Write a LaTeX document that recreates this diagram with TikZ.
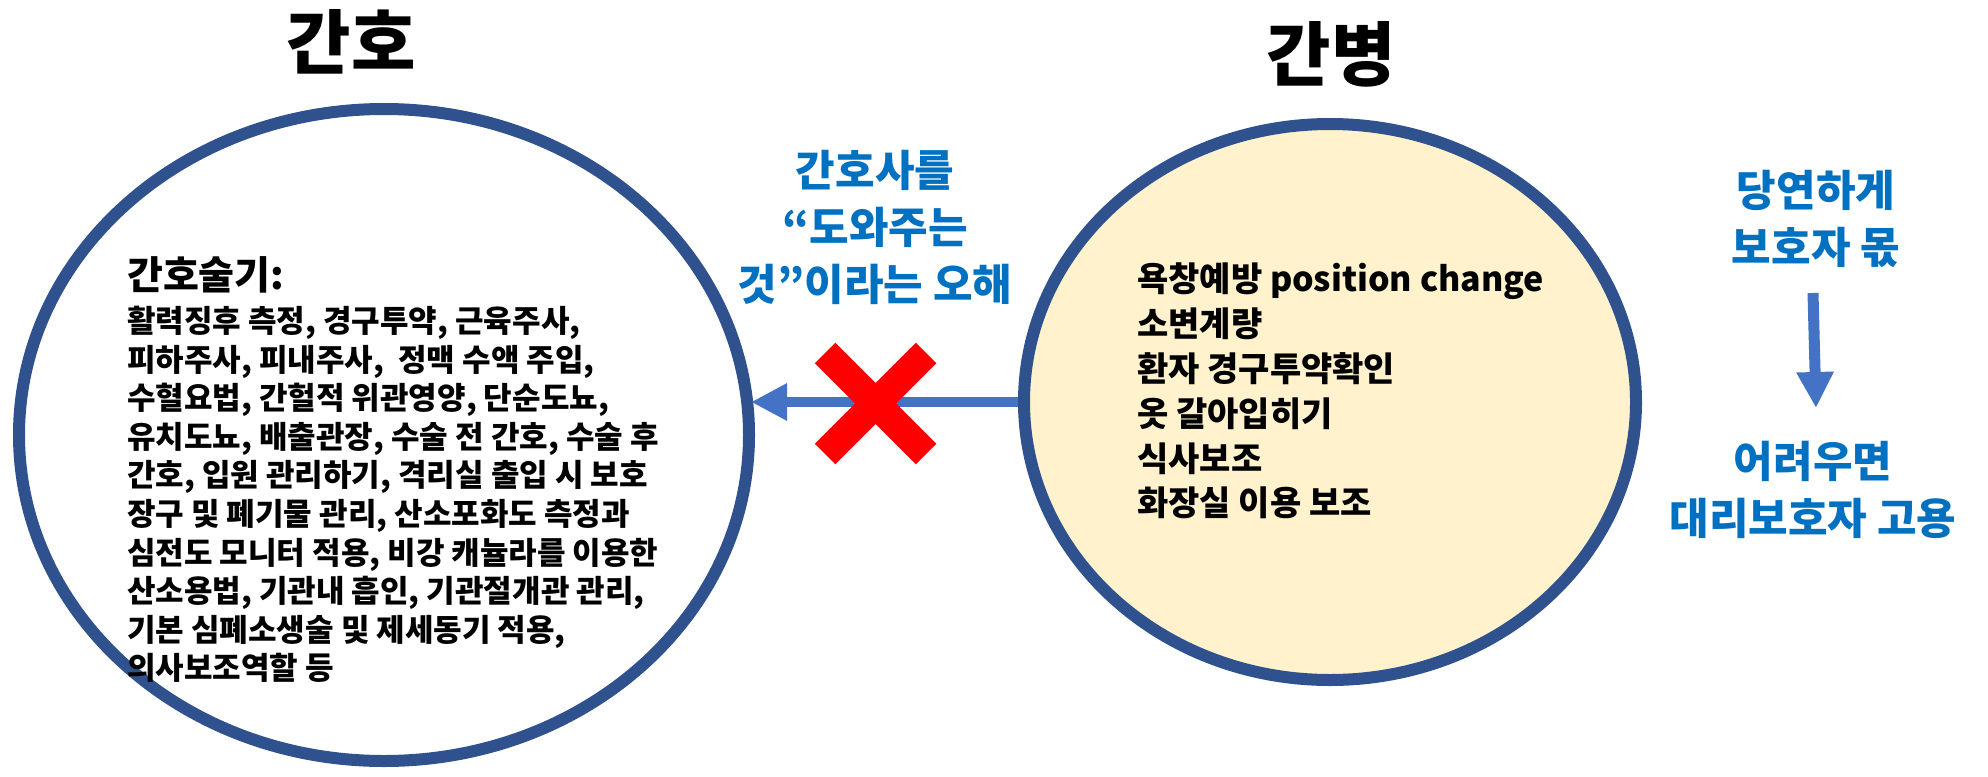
\documentclass[tikz,border=0pt]{standalone}
\usepackage{fontspec}
\setmainfont{Noto Sans CJK KR}
\usetikzlibrary{shapes.geometric,arrows.meta}
\definecolor{ringblue}{HTML}{2F528F}
\definecolor{arrowblue}{HTML}{4472C4}
\definecolor{textblue}{HTML}{0070C0}
\definecolor{paleyellow}{HTML}{FFF2CC}
\definecolor{crossred}{HTML}{FF0000}
\tikzset{
  ring/.style={ellipse, draw=ringblue, line width=12pt, inner sep=0pt},
  titletext/.style={inner sep=0pt, font=\fontsize{70}{80}\selectfont\bfseries},
  bodytext/.style={inner sep=0pt, align=left, text=black},
  bluetext/.style={inner sep=0pt, align=center, text=textblue, font=\fontsize{43}{57}\selectfont\bfseries},
  bigarrow/.style={draw=arrowblue, line width=10pt, -{Triangle[length=36pt, width=35pt]}},
  crossbar/.style={draw=crossred, line width=29pt, line cap=butt}
}
\begin{document}
\begin{tikzpicture}[x=1pt,y=-1pt]
\useasboundingbox (0,0) rectangle (1988,776);
% ellipses
\node[ring, minimum width=730pt, minimum height=652pt] (nurse) at (384,435) {};
\node[ring, fill=paleyellow, minimum width=612pt, minimum height=556pt] (care) at (1330,402) {};
% titles
\node[titletext, anchor=north] (t1) at (351,9) {간호};
\node[titletext, anchor=north] (t2) at (1331,21) {간병};
% left text
\node[bodytext, anchor=west, font=\fontsize{39}{44}\selectfont\bfseries] (skillhead) at (127,275) {간호술기:};
\node[bodytext, anchor=north west, font=\fontsize{31}{38.6}\selectfont\bfseries] (skills) at (127,306) {활력징후 측정, 경구투약, 근육주사,\\
피하주사, 피내주사,\ \ 정맥 수액 주입,\\
수혈요법, 간헐적 위관영양, 단순도뇨,\\
유치도뇨, 배출관장, 수술 전 간호, 수술 후\\
간호, 입원 관리하기, 격리실 출입 시 보호\\
장구 및 폐기물 관리, 산소포화도 측정과\\
심전도 모니터 적용, 비강 캐뉼라를 이용한\\
산소용법, 기관내 흡인, 기관절개관 관리,\\
기본 심폐소생술 및 제세동기 적용,\\
의사보조역할 등};
% right text
\node[bodytext, anchor=north west, font=\fontsize{34}{44.8}\selectfont\bfseries] (tasks) at (1137,263) {욕창예방 position change\\
소변계량\\
환자 경구투약확인\\
옷 갈아입히기\\
식사보조\\
화장실 이용 보조};
% blue notes
\node[bluetext, anchor=north] (miss) at (875,150) {간호사를\\“도와주는\\것”이라는 오해};
\node[bluetext, anchor=north] (guard) at (1816,170) {당연하게\\보호자 몫};
\node[bluetext, anchor=north] (hire) at (1813,441) {어려우면\\대리보호자 고용};
% arrows
\coordinate (tip) at (751,402);
\draw[bigarrow] (care.west) -- (tip);
\coordinate (dtop) at (1813,293);
\coordinate (dbot) at (1816,408);
\draw[bigarrow, line width=11pt] (dtop) -- (dbot);
% red cross
\draw[crossbar] (825,353) -- (926,454);
\draw[crossbar] (926,353) -- (825,454);
\end{tikzpicture}
\end{document}
